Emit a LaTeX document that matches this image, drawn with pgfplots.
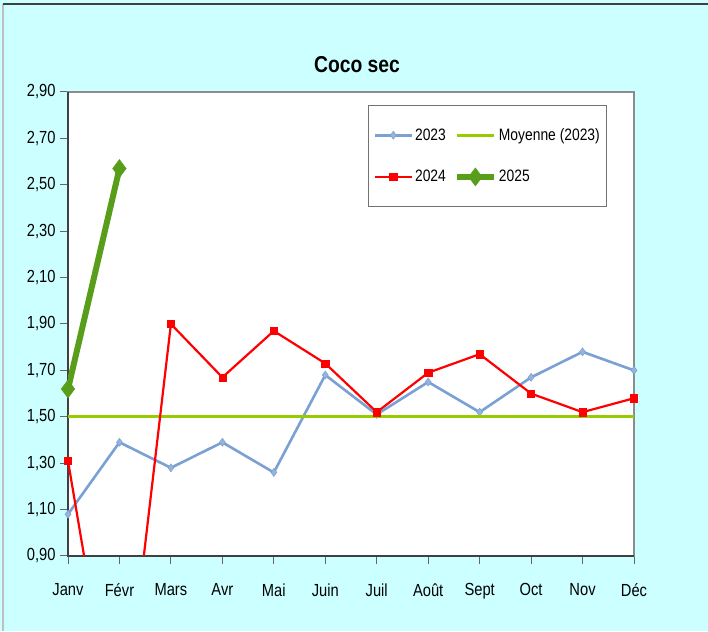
\documentclass[border=0pt]{standalone}
\usepackage{fontspec}
\setmainfont{Liberation Sans}[FakeStretch=0.84]
\usepackage{pgfplots}
\pgfplotsset{compat=1.18}
\definecolor{bg}{HTML}{CCFFFF}
\definecolor{c23}{RGB}{122,160,212}
\definecolor{c24}{RGB}{255,0,0}
\definecolor{cavg}{RGB}{153,204,0}
\definecolor{c25}{RGB}{88,158,26}
\begin{document}
\begin{tikzpicture}[x=1pt,y=1pt]
\useasboundingbox (0,0) rectangle (708,631);
\fill[bg] (0,0) rectangle (708,631);
\draw[black!25, line width=1.5pt] (3,0) -- (3,627);
\draw[black!75, line width=2pt] (3,627) -- (708,627);
\node[font=\fontsize{23}{28}\selectfont\bfseries, anchor=base] at (357,558) {Coco sec};
\begin{axis}[
  at={(68pt,75pt)}, anchor=south west,
  width=566pt, height=464pt, scale only axis,
  xmin=0, xmax=11, ymin=0.9, ymax=2.9,
  xtick={0,1,2,3,4,5,6,7,8,9,10,11},
  xticklabels={Janv,Févr,Mars,Avr,Mai,Juin,Juil,Août,Sept,Oct,Nov,Déc},
  ytick={0.9,1.1,1.3,1.5,1.7,1.9,2.1,2.3,2.5,2.7,2.9},
  /pgf/number format/assume math mode=true,
  y tick label style={/pgf/number format/fixed, /pgf/number format/fixed zerofill, /pgf/number format/precision=2, /pgf/number format/use comma, xshift=-1pt},
  tick label style={font=\fontsize{17.5}{20}\selectfont},
  xticklabel style={yshift=-16pt},
  tick pos=left,
  tick align=outside, major tick length=8pt,
  tick style={black!60, line width=1pt},
  axis background/.style={fill=white},
  axis line style={black!45, line width=2pt},
  clip mode=individual,
  legend columns=2,
  legend cell align=left,
  legend style={at={(0.530,0.972)}, anchor=north west, draw=black!55, line width=1pt,
    font=\fontsize{16.5}{20}\selectfont, inner xsep=5pt, inner ysep=21pt, row sep=24pt,
    /tikz/every even column/.append style={column sep=6pt}},
  legend image code/.code={\draw[mark repeat=2,mark phase=2] plot coordinates {(0pt,0pt) (18.5pt,0pt) (37pt,0pt)};},
]
\draw[black!75, line width=2pt] (rel axis cs:0,1) -- (rel axis cs:0,0) -- (rel axis cs:1,0);
\addplot[c23, line width=2.6pt, mark=diamond*, mark size=4, mark options={line width=0.5pt, fill=c23!80}] coordinates {
(0,1.08) (1,1.39) (2,1.28) (3,1.39) (4,1.26) (5,1.68) (6,1.51) (7,1.65) (8,1.52) (9,1.67) (10,1.78) (11,1.70)};
\addlegendentry{2023}
\addplot[cavg, line width=2.8pt, mark=none] coordinates {(0,1.50) (11,1.50)};
\addlegendentry{Moyenne (2023)}
\addplot[c24, line width=2.2pt, mark=square*, mark size=3.6, mark options={line width=0.5pt}] coordinates {
(0,1.31) (1,0) (2,1.90) (3,1.67) (4,1.87) (5,1.73) (6,1.52) (7,1.69) (8,1.77) (9,1.60) (10,1.52) (11,1.58)};
\addlegendentry{2024}
\addplot[c25, line width=6pt, mark=diamond*, mark size=9, mark options={line width=0.5pt}] coordinates {
(0,1.62) (1,2.57)};
\addlegendentry{2025}
\end{axis}
\end{tikzpicture}
\end{document}
